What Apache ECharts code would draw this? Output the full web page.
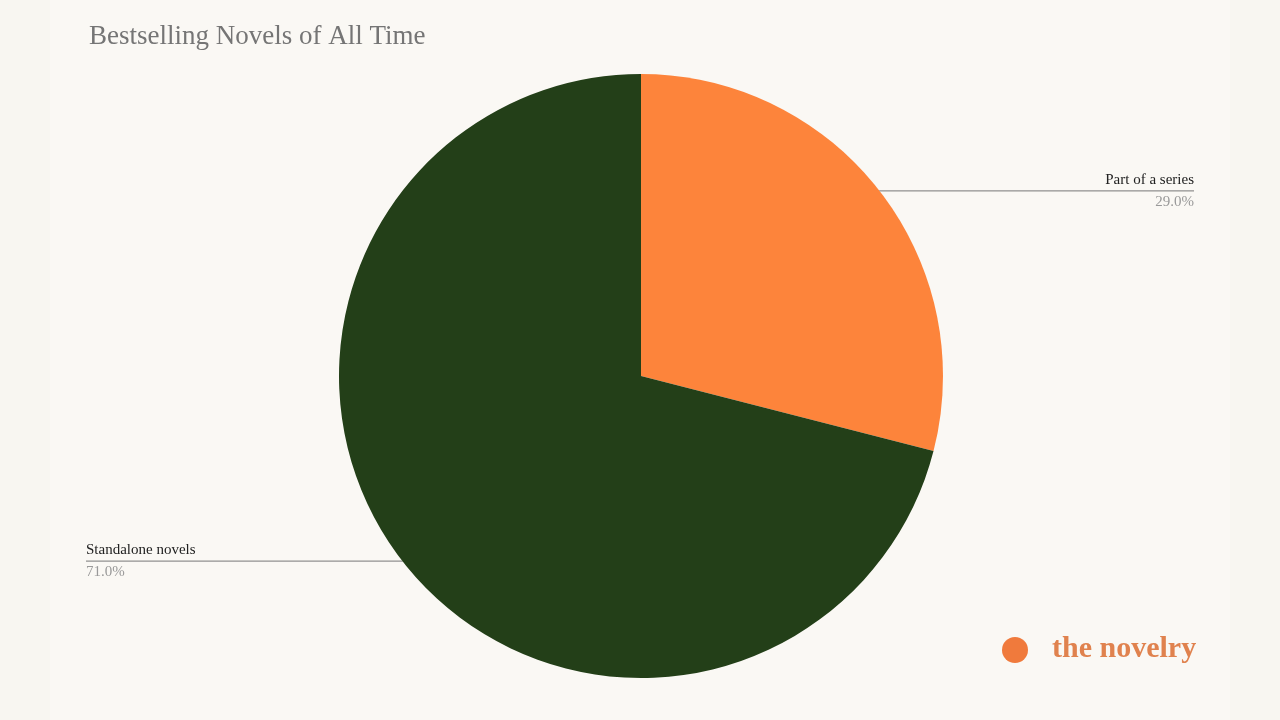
<!DOCTYPE html>
<html><head><meta charset="utf-8">
<script src="https://cdn.jsdelivr.net/npm/echarts@6/dist/echarts.min.js"></script>
<style>html,body{margin:0;background:#f8f6f1}#c{width:1280px;height:720px}</style>
</head><body><div id="c"></div>
<script>
const categories = ['Part of a series', 'Standalone novels'];
const values = [29.0, 71.0];
const colors = ['#fd843b', '#233f18'];
const chart = echarts.init(document.getElementById('c'));
chart.setOption({
  backgroundColor: '#f8f6f1',
  title: { text: 'Bestselling Novels of All Time', left: 84, top: 18,
    textStyle: { fontFamily: 'Liberation Serif', fontWeight: 'normal', fontSize: 27, color: '#757575' } },
  graphic: [
    { type: 'rect', shape: { x: 50, y: 0, width: 1180, height: 720 }, style: { fill: '#faf8f4' }, z: -1 },
    { type: 'circle', shape: { cx: 1015, cy: 650, r: 13 }, style: { fill: '#f07a3c' } },
    { type: 'text', left: 1052, top: 634, style: { text: 'the novelry', fontFamily: 'Liberation Serif', fontWeight: 'bold', fontSize: 30, fill: '#e0824e' } }
  ],
  series: [{
    type: 'pie', center: [641, 376], radius: 302, startAngle: 90, clockwise: true,
    data: categories.map((n, i) => ({ name: n, value: values[i], itemStyle: { color: colors[i] } })),
    label: {
      position: 'outside', alignTo: 'edge', edgeDistance: 86,
      formatter: p => '{n|' + p.name + '}\n{v|' + p.value.toFixed(1) + '%}',
      rich: {
        n: { fontFamily: 'Liberation Serif', fontSize: 15, color: '#222', lineHeight: 22 },
        v: { fontFamily: 'Liberation Serif', fontSize: 15, color: '#999', lineHeight: 22 }
      }
    },
    labelLine: { length: 0, length2: 20, lineStyle: { color: '#777', width: 1 } },
    labelLayout: function (params) {
      const pts = params.labelLinePoints;
      if (!pts) return {};
      const r = params.labelRect;
      const y = r.y + r.height / 2;
      const p0 = pts[0];
      const right = p0[0] < r.x;
      const farX = right ? r.x + r.width : r.x;
      return { labelLinePoints: [[p0[0] + (right ? -12 : 12), y], [p0[0], y], [farX, y]] };
    }
  }]
});
</script></body></html>
